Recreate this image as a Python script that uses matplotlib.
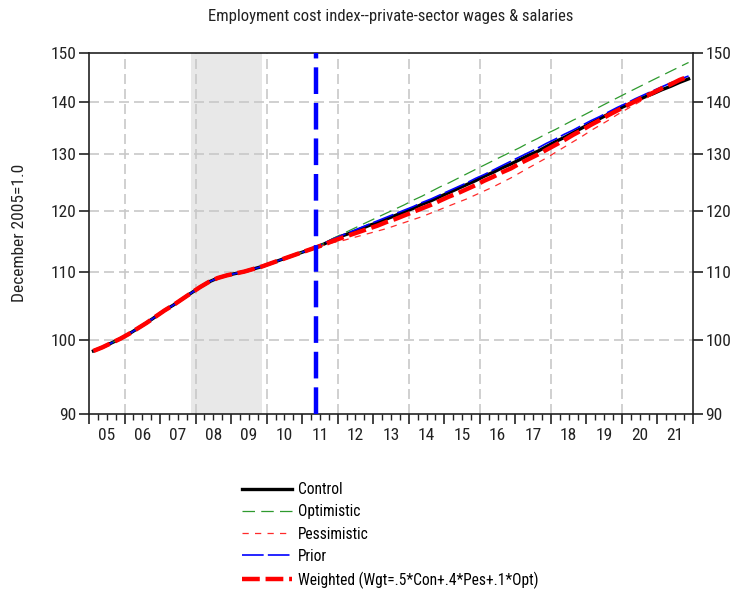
import matplotlib
matplotlib.use("Agg")
import matplotlib.pyplot as plt
from matplotlib import font_manager as fm
from matplotlib.ticker import FixedLocator, NullFormatter, FixedFormatter

# pick a narrow/condensed font if one is installed
narrow = None
prefs = ['Liberation Sans Narrow', 'Arial Narrow', 'Roboto Condensed',
         'Open Sans Condensed', 'Noto Sans Condensed', 'DejaVu Sans Condensed']
entries = fm.fontManager.ttflist
for p in prefs:
    for f in entries:
        if f.name == p and f.style == 'normal' and f.weight in (400, 'normal', 'regular'):
            narrow = (f.name, 'normal')
            break
    if narrow:
        break
if narrow is None:
    for f in entries:
        st = str(f.stretch).lower()
        fn = f.fname.lower()
        if (('condensed' in st or 'narrow' in fn or 'condensed' in fn)
                and f.style == 'normal' and 'bold' not in fn and 'light' not in fn
                and 'semi' not in fn and 'extra' not in fn and 'italic' not in fn
                and 'cjk' not in fn and 'mono' not in fn):
            narrow = (f.name, f.stretch)
            break

if narrow is not None:
    plt.rcParams['font.family'] = [narrow[0], 'DejaVu Sans']
    plt.rcParams['font.stretch'] = narrow[1]
    scale = 1.0
else:
    plt.rcParams['font.family'] = ['Liberation Sans', 'DejaVu Sans']
    scale = 0.84

# Quarterly observations: 2005Q1 .. 2021Q4 (plotted at mid-quarter)
start_year = 2005
history = [98.4, 98.9, 99.5, 100.1, 100.8, 101.6, 102.4, 103.3,
           104.2, 105.0, 105.9, 106.8, 107.7, 108.5, 109.1, 109.5,
           109.8, 110.1, 110.5, 110.9, 111.4, 111.9, 112.4, 112.9,
           113.4, 113.9]

control_fc = [114.5, 115.2, 115.8, 116.3, 116.9, 117.5, 118.0, 118.6, 119.2, 119.8,
              120.4, 121.1, 121.7, 122.4, 123.1, 123.8, 124.5, 125.2, 126.0, 126.7,
              127.5, 128.2, 129.0, 129.8, 130.5, 131.4, 132.3, 133.1, 134.0, 134.9,
              135.8, 136.7, 137.6, 138.5, 139.3, 140.1, 140.9, 141.6, 142.4, 143.1,
              143.9, 144.6]
optimistic_fc = [114.6, 115.4, 116.1, 116.8, 117.5, 118.2, 118.9, 119.6, 120.3, 121.0,
                 121.8, 122.5, 123.3, 124.1, 124.8, 125.6, 126.4, 127.2, 128.0, 128.8,
                 129.6, 130.4, 131.2, 132.1, 132.9, 133.8, 134.6, 135.5, 136.4, 137.2,
                 138.1, 139.0, 139.9, 140.8, 141.7, 142.6, 143.5, 144.4, 145.3, 146.2,
                 147.1, 148.0]
pessimistic_fc = [114.3, 114.7, 115.0, 115.4, 115.8, 116.2, 116.6, 117.0, 117.5, 118.0,
                  118.5, 119.0, 119.6, 120.2, 120.8, 121.4, 122.0, 122.7, 123.4, 124.1,
                  124.9, 125.7, 126.6, 127.5, 128.4, 129.3, 130.3, 131.3, 132.3, 133.3,
                  134.4, 135.4, 136.4, 137.5, 138.5, 139.5, 140.5, 141.5, 142.5, 143.4,
                  144.3, 145.1]
prior_fc = [114.6, 115.3, 115.9, 116.5, 117.1, 117.7, 118.3, 118.9, 119.5, 120.1,
            120.7, 121.4, 122.0, 122.7, 123.4, 124.1, 124.8, 125.6, 126.3, 127.1,
            127.9, 128.7, 129.5, 130.3, 131.1, 132.0, 132.8, 133.7, 134.5, 135.4,
            136.3, 137.1, 138.0, 138.9, 139.7, 140.6, 141.4, 142.2, 143.0, 143.8,
            144.5, 145.2]
weighted_fc = [114.4, 115.0, 115.5, 116.0, 116.5, 117.0, 117.5, 118.1, 118.6, 119.2,
               119.8, 120.4, 121.0, 121.7, 122.4, 123.0, 123.7, 124.4, 125.2, 125.9,
               126.7, 127.4, 128.3, 129.1, 129.9, 130.8, 131.7, 132.6, 133.6, 134.5,
               135.5, 136.4, 137.4, 138.3, 139.2, 140.1, 141.0, 141.8, 142.7, 143.5,
               144.4, 145.1]

year_labels = ['05', '06', '07', '08', '09', '10', '11', '12', '13', '14',
               '15', '16', '17', '18', '19', '20', '21']
y_ticks = [90, 100, 110, 120, 130, 140, 150]
recession = (2007.875, 2009.875)
forecast_start = 2011.375

n = len(history) + len(control_fc)
x = [start_year + (i + 0.5) / 4 for i in range(n)]

series = [
    ("Control", history + control_fc, dict(color='black', lw=2.4, ls='-')),
    ("Optimistic", history + optimistic_fc, dict(color='#2e9a2e', lw=0.9, ls=(0, (10, 5)))),
    ("Pessimistic", history + pessimistic_fc, dict(color='#ff2a2a', lw=0.9, ls=(0, (5, 5)))),
    ("Prior", history + prior_fc, dict(color='#0000ff', lw=1.2, ls=(0, (13, 2.5)))),
    ("Weighted (Wgt=.5*Con+.4*Pes+.1*Opt)", history + weighted_fc,
     dict(color='#ff0000', lw=3.2, ls=(0, (4, 1.3)))),
]

fig = plt.figure(figsize=(7.31, 5.94), dpi=100)
ax = fig.add_axes([89/731, 1 - 414/594, 604/731, 361/594])

ax.set_yscale('log')
ax.set_ylim(90, 150)
ax.set_xlim(2005, 2022)

ax.axvspan(*recession, color='#e8e8e8', zorder=0, lw=0)

grid_kw = dict(color='#c8c8c8', lw=1.2, ls=(0, (6, 3)), zorder=1)
for v in y_ticks[1:-1]:
    ax.axhline(v, **grid_kw)
for yr in range(2006, 2021, 2):
    ax.axvline(yr, **grid_kw)

for i, (name, vals, kw) in enumerate(series):
    ax.plot(x, vals, label=name, zorder=3 + i, **kw)

ax.axvline(forecast_start, color='#0000ff', lw=3.2, ls=(0, (6, 2)), zorder=10)

tick_fs = 12.5 * scale
ax.yaxis.set_major_locator(FixedLocator(y_ticks))
ax.yaxis.set_major_formatter(FixedFormatter([str(v) for v in y_ticks]))
ax.yaxis.set_minor_locator(FixedLocator([]))
ax.yaxis.set_minor_formatter(NullFormatter())
ax.tick_params(axis='y', which='major', direction='out', length=7, width=1.2,
               labelsize=tick_fs, left=True, right=True, labelleft=True, labelright=True,
               pad=2, colors='#222222')

years = list(range(2005, 2023))
ax.xaxis.set_major_locator(FixedLocator(years))
ax.xaxis.set_major_formatter(NullFormatter())
quarters = [y + q / 4 for y in range(2005, 2022) for q in (1, 2, 3)]
ax.xaxis.set_minor_locator(FixedLocator(quarters))
ax.xaxis.set_minor_formatter(NullFormatter())
ax.tick_params(axis='x', which='major', direction='out', length=7, width=1.2, colors='#222222')
ax.tick_params(axis='x', which='minor', direction='out', length=4, width=1.0, colors='#222222')
for yr, lab in zip(range(2005, 2022), year_labels):
    ax.text(yr + 0.5, -0.04, lab, transform=ax.get_xaxis_transform(),
            ha='center', va='top', fontsize=tick_fs, color='#222222')

for s in ax.spines.values():
    s.set_linewidth(1.2)
    s.set_color('#222222')

fig.text(20/731, 1 - 233/594, 'December 2005=1.0', rotation=90,
         ha='center', va='center', fontsize=12.5 * scale, color='#222222')
fig.text(391/731, 1 - 17/594, 'Employment cost index--private-sector wages & salaries',
         ha='center', va='center', fontsize=12 * scale, color='#222222')

leg_fs = 11.2 * scale
leg = fig.legend(loc='upper left', bbox_to_anchor=(242/731, 1 - 482/594),
                 frameon=False, fontsize=leg_fs, handlelength=36 / leg_fs,
                 handletextpad=4.3 / leg_fs, labelspacing=0.47, borderpad=0,
                 borderaxespad=0)

fig.savefig('out.png', dpi=100)
